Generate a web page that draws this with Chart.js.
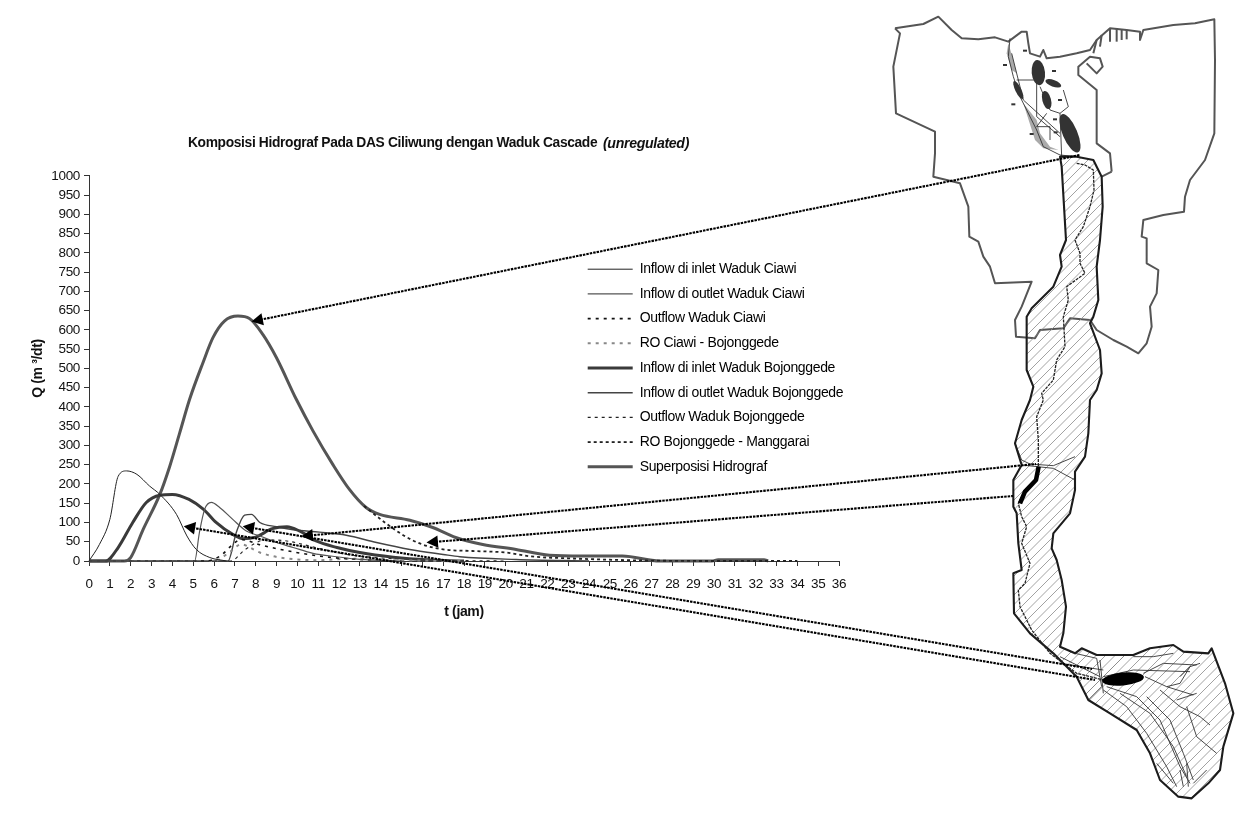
<!DOCTYPE html>
<html><head><meta charset="utf-8">
<style>html,body{margin:0;padding:0;background:#fff}canvas{display:block}</style>
<script src="https://cdn.jsdelivr.net/npm/chart.js@4"></script>
</head><body>
<div style="width:1252px;height:822px"><canvas id="c" width="1252" height="822"></canvas></div>
<script>
const chartTitle = 'Komposisi Hidrograf Pada DAS Ciliwung dengan Waduk Cascade';
const chartSubtitle = '(unregulated)';
const xAxisTitle = 't (jam)';
const yAxisTitle = 'Q (m ³/dt)';
const seriesNames = ['Inflow di inlet Waduk Ciawi','Inflow di outlet Waduk Ciawi','Outflow Waduk Ciawi','RO Ciawi - Bojonggede','Inflow di inlet Waduk Bojonggede','Inflow di outlet Waduk Bojonggede','Outflow Waduk Bojonggede','RO Bojonggede - Manggarai','Superposisi Hidrograf'];

const tInletCiawi = [0,0.5,1,1.4,1.8,2.3,2.9,3.4,4.2,4.7,5.15,5.8,6.6];
const qInletCiawi = [0,43,108,220,234,225,195,173,121,65,30,9,0];
const tOutletCiawi = [0,5.07,5.3,5.55,5.87,6.27,6.9,7.55,8.2,9,9.8,10.75,11.9,13,15];
const qOutletCiawi = [0,0,74,134,152,139,108,78,65,48,35,20,11,4,0];
const tOutflowCiawi = [0,5.6,6.3,6.9,7.3,8.2,9.2,10.2,11.5,13,15];
const qOutflowCiawi = [0,0,13,43,56,42,30,20,10,4,0];
const tRoCiawi = [0,6,6.8,7.3,8.2,9.15,10,11,12.5,14,18];
const qRoCiawi = [0,0,25,43,22,9,4,2,6,3,0];
const tInletBojong = [0,0.8,1.4,2.1,2.75,3.4,4,4.8,5.5,6.1,6.9,7.4,8,8.8,9.5,10.1,10.9,11.9,13,14.6,16.2,18];
const qInletBojong = [0,0,35,100,152,171,173,160,134,100,69,58,62,84,89,78,52,35,22,10,3,0];
const tOutletBojong = [0,6.67,7.07,7.47,7.8,8.2,9,9.8,11.07,12.35,13.8,15.4,17,17.8,20.5,24];
const qOutletBojong = [0,0,74,119,121,100,89,81,75,67,48,30,17,11,4,0];
const tOutflowBojong = [0,6.8,7.5,8.5,9.5,10.5,11.5,12.5,14,16,18,20];
const qOutflowBojong = [0,0,30,55,52,40,27,16,8,3,1,0];
const tRoBojong = [13.2,14.2,15.15,16,17,18.4,20,21.2,23,26,30,34];
const qRoBojong = [143,100,65,43,30,26,22,12,7,2,0,0];
const tSuper = [0,1.7,2,2.6,3.4,3.87,4.35,4.83,5.47,5.95,6.5,7.15,7.7,8.35,9,9.95,10.75,11.7,12.5,13.3,13.95,15.4,16.5,17.6,18.9,20.5,22.1,23.7,25.6,27.4,29.9,30.2,32.4,32.6];
const qSuper = [0,0,9,82,173,245,332,420,515,580,623,636,630,588,528,420,338,251,186,139,121,106,87,61,43,30,15,13,13,0,0,3,3,0];

const xTickMax = 36, yTickMax = 1000, yTickStep = 50;

// arrow tips in data units (t, Q); tails are map locations in page pixels
const arrows = [
  {t:7.8,  q:622, tail:[1080,155]},
  {t:16.2, q:48,  tail:[1013,496]},
  {t:10.2, q:64,  tail:[1036,464]},
  {t:4.55, q:90,  tail:[1095,680]},
  {t:7.38, q:90,  tail:[1092,669]}
];

const pairs = (t,q)=>t.map((x,i)=>({x,y:q[i]}));
const styles = [
  {c:'#222',w:1,d:[]},{c:'#555',w:1.2,d:[]},{c:'#111',w:1.6,d:[3,5]},{c:'#888',w:2,d:[3,5]},
  {c:'#3a3a3a',w:3,d:[]},{c:'#444',w:1.4,d:[]},{c:'#222',w:1.1,d:[3,4]},{c:'#222',w:1.8,d:[3,3]},{c:'#555',w:3,d:[]}
];
const series = [[tInletCiawi,qInletCiawi],[tOutletCiawi,qOutletCiawi],[tOutflowCiawi,qOutflowCiawi],[tRoCiawi,qRoCiawi],[tInletBojong,qInletBojong],[tOutletBojong,qOutletBojong],[tOutflowBojong,qOutflowBojong],[tRoBojong,qRoBojong],[tSuper,qSuper]];
const datasets = series.map((s,i)=>({label:seriesNames[i],data:pairs(s[0],s[1]),borderColor:styles[i].c,backgroundColor:'transparent',borderWidth:styles[i].w,borderDash:styles[i].d,pointRadius:0,cubicInterpolationMode:'monotone',fill:false,clip:false}));

// --- Map artwork (illustration) ---
const Z4 = a=>{const r=[];for(let i=0;i<a.length;i+=2)r.push([880+a[i]/3,a[i+1]/3]);return r;};
const Z5 = a=>{const r=[];for(let i=0;i<a.length;i+=2)r.push([960+a[i]/3,400+a[i+1]/3]);return r;};
const grayLines = [
 Z4([45,85,75,80,130,72,175,50,215,90,245,115,295,118,345,112,385,125,425,95,440,95,445,130,450,160,480,170,490,150,500,175,540,170,590,160,630,150,650,120,690,85,740,90,780,95,780,120,790,90,880,75,945,70,1003,58,1005,180,1003,400,975,480,930,540,915,590,912,635,850,645,790,660,785,710,800,715,800,790,835,810,830,880,810,920,815,980,800,1030,775,1060,740,1040,700,1020,650,990,630,960,570,955,550,985,480,990,465,1015,408,1010,405,960,425,920,455,845,345,850,330,800,310,770,295,725,268,710,265,620,240,550,160,530,165,460,165,395,48,340,40,200,60,100,45,85]),
 Z4([695,515,690,460,650,430,650,270,595,225,595,200,630,170,660,175,668,200,650,220,620,190]),
 Z4([695,515,665,530]),
 Z4([650,120,640,160]),Z4([665,105,660,140]),Z4([690,85,690,125]),Z4([710,85,710,125]),Z4([725,88,725,120]),Z4([740,90,740,118])
];
const basin = Z4([590,470,640,480,665,530,668,620,660,720,650,800,655,900,640,950,630,970,660,1050,665,1120,650,1170,630,1200]).concat(
 Z5([385,100,375,170,345,215,345,270,330,340,280,400,275,445,290,480,305,540,318,620,310,700,300,740,345,760,365,745,410,765,520,765,570,745,640,735,670,755,745,760,755,745,795,850,820,940,790,1040,780,1110,745,1150,695,1195,655,1190,600,1140,570,1060,530,990,450,940,385,900,350,830,280,760,210,700,162,640,160,520,185,510,175,430,170,340,160,320,160,240,185,195,165,130,185,60,210,0]),
 Z4([460,1160,440,1110,440,950,455,925,520,860,545,800,540,765,558,720,545,500,540,470]));
const thinLines = [
 Z5([165,130,185,180,210,192,280,197,345,170]),
 Z5([185,195,280,205,345,240]),
 Z5([345,760,410,775,425,860,385,900]),
 Z5([520,770,580,770,640,760]),Z5([430,830,520,810,690,815]),Z5([550,820,610,790,710,795]),
 Z5([555,830,620,860,700,885]),Z5([620,860,660,850,690,800]),Z5([600,870,660,920,720,950,750,975]),
 Z5([680,920,710,1010,770,1060]),Z5([440,860,530,890,600,960,660,1100,690,1150]),
 Z5([430,870,500,920,560,1000,620,1100,650,1160]),Z5([480,880,570,940,640,1040,680,1130]),
 Z5([560,890,630,960,670,1060,700,1140]),Z5([590,1090,640,1150]),Z5([740,1110,700,1150]),Z5([660,1110,670,1160]),Z5([680,1090,685,1160]),
 Z5([720,790,690,800,660,830]),Z5([710,880,680,890,650,900]),Z5([300,790,430,810]),Z5([300,770,420,830]),Z5([420,780,430,880]),
 Z4([390,115,385,170,400,230,420,290,470,390,490,440,540,465,590,470]),
 Z4([410,240,470,240]),Z4([470,190,470,350,540,410]),Z4([480,260,510,330,540,340,565,320,550,270]),
 Z4([500,340,470,380,510,380,510,420]),Z4([395,160,430,300,540,400]),Z4([540,340,545,470])
];
const river = Z4([590,490,615,495,640,510,642,570,630,620,610,680,585,720,600,760,600,790,615,820,560,860,565,900,550,950,555,1040,530,1080,520,1140,485,1180,490,1200]).concat(
 Z5([250,0,230,50,235,120,235,200,225,240,190,280,175,310,185,350,200,380,185,430,210,490,195,550,175,570,180,620,215,690,270,760,350,820,430,840]));
const reservoirLine = Z5([236,200,228,240,195,275,180,310]);
const blobs = [[475,218,20,38,-0.1],[415,270,9,30,-0.45],[520,250,25,10,0.35],[500,300,13,28,-0.25],[570,400,22,62,-0.4]];
const grayBlobs = [Z4([430,310,470,360,480,400,510,440,535,450,490,445,465,420]),Z4([385,130,400,180,410,220,395,210,380,160])];
const dashes = [[375,195],[522,213],[400,313],[455,402],[527,397],[540,300],[525,358],[435,152]];

function path(ctx,p,close){ctx.beginPath();p.forEach((q,i)=>i?ctx.lineTo(q[0],q[1]):ctx.moveTo(q[0],q[1]));if(close)ctx.closePath();}
function drawMap(ctx){
  ctx.save();ctx.lineJoin='round';
  ctx.strokeStyle='#555';ctx.lineWidth=2;grayLines.forEach(p=>{path(ctx,p);ctx.stroke();});
  ctx.save();path(ctx,basin,true);ctx.clip();ctx.strokeStyle='#8a8a8a';ctx.lineWidth=.8;
  for(let x=950;x<1600;x+=9.5){ctx.beginPath();ctx.moveTo(x,830);ctx.lineTo(x+680,150);ctx.stroke();}
  for(let x=950;x>300;x-=9.5){ctx.beginPath();ctx.moveTo(x,830);ctx.lineTo(x+680,150);ctx.stroke();}
  ctx.restore();
  ctx.fillStyle='#aaa';grayBlobs.forEach(p=>{path(ctx,p,true);ctx.fill();});
  ctx.strokeStyle='#333';ctx.lineWidth=.9;thinLines.forEach(p=>{path(ctx,p);ctx.stroke();});
  ctx.strokeStyle='#1c1c1c';ctx.lineWidth=2.1;path(ctx,basin,true);ctx.stroke();
  ctx.strokeStyle='#222';ctx.lineWidth=1.3;ctx.setLineDash([3,1]);path(ctx,river);ctx.stroke();ctx.setLineDash([]);
  ctx.strokeStyle='#000';ctx.lineWidth=4.5;path(ctx,reservoirLine);ctx.stroke();
  ctx.fillStyle='#333';blobs.forEach(b=>{ctx.beginPath();ctx.ellipse(880+b[0]/3,b[1]/3,b[2]/3,b[3]/3,b[4],0,7);ctx.fill();});
  ctx.fillStyle='#333';dashes.forEach(d=>ctx.fillRect(880+d[0]/3-2,d[1]/3-1,4,2));
  ctx.fillStyle='#000';ctx.beginPath();ctx.ellipse(1123,679,21,6.5,-0.1,0,7);ctx.fill();
  ctx.restore();
}
function drawArrows(chart){
  const ctx=chart.ctx,xs=chart.scales.x,ys=chart.scales.y;
  ctx.save();
  arrows.forEach(a=>{
    const tx=xs.getPixelForValue(a.t),ty=ys.getPixelForValue(a.q),ang=Math.atan2(a.tail[1]-ty,a.tail[0]-tx);
    ctx.strokeStyle='#000';ctx.lineWidth=2.1;ctx.setLineDash([2.5,1]);
    ctx.beginPath();ctx.moveTo(tx+9*Math.cos(ang),ty+9*Math.sin(ang));ctx.lineTo(a.tail[0],a.tail[1]);ctx.stroke();
    ctx.setLineDash([]);ctx.fillStyle='#000';
    ctx.beginPath();ctx.moveTo(tx,ty);
    ctx.lineTo(tx+13*Math.cos(ang-.5),ty+13*Math.sin(ang-.5));
    ctx.lineTo(tx+13*Math.cos(ang+.5),ty+13*Math.sin(ang+.5));ctx.closePath();ctx.fill();
  });
  ctx.restore();
}
const placement={
  id:'placement',
  afterLayout(chart){
    const put=(b,l,t,w,h)=>{b.left=l;b.top=t;b.right=l+w;b.bottom=t+h;};
    put(chart.legend,577,251.5,290,320);
    const boxes=chart.boxes;
    const title=chart.titleBlock;
    put(title,188,135,415,14);
    const sub=boxes.find(b=>b!==title&&b.options&&b.options.text===chartSubtitle);
    if(sub)put(sub,603,135.5,86,14);
  },
  beforeDraw(chart){chart.ctx.letterSpacing='-0.35px';drawMap(chart.ctx);},
  afterDraw(chart){drawArrows(chart);}
};
Chart.defaults.font.family='"Liberation Sans", Arial, sans-serif';
Chart.defaults.color='#111';
new Chart(document.getElementById('c'),{
  type:'line',
  data:{datasets},
  plugins:[placement],
  options:{
    responsive:false,animation:false,
    layout:{padding:{left:0,right:413,top:142,bottom:201}},
    plugins:{
      tooltip:{enabled:false},
      title:{display:true,text:chartTitle,align:'start',color:'#111',padding:0,font:{size:13.8,weight:'bold',lineHeight:1.2}},
      subtitle:{display:true,text:chartSubtitle,align:'start',color:'#111',padding:0,font:{size:14.5,weight:'bold',style:'italic',lineHeight:1.2}},
      legend:{position:'chartArea',align:'start',labels:{usePointStyle:true,pointStyle:'line',pointStyleWidth:45,padding:10.7,color:'#111',font:{size:14,lineHeight:1},
        generateLabels(chart){return chart.data.datasets.map((d,i)=>({text:d.label,fillStyle:'transparent',strokeStyle:d.borderColor,lineWidth:d.borderWidth,lineDash:d.borderDash,pointStyle:'line',datasetIndex:i,hidden:false}));}}}
    },
    scales:{
      x:{type:'linear',min:0,max:xTickMax,
        afterFit(s){s.height=60;},
        border:{color:'#333',width:1},
        grid:{drawOnChartArea:false,drawTicks:true,tickLength:5,color:'#333'},
        ticks:{stepSize:1,autoSkip:false,maxRotation:0,color:'#111',padding:10,font:{size:13.5},callback:v=>String(v)},
        title:{display:true,text:xAxisTitle,color:'#111',padding:{top:13,bottom:0},font:{size:14,weight:'bold'}}},
      y:{type:'linear',min:0,max:yTickMax,
        afterFit(s){s.width=89;},
        border:{color:'#333',width:1},
        grid:{drawOnChartArea:false,drawTicks:true,tickLength:5,color:'#333'},
        ticks:{stepSize:yTickStep,autoSkip:false,color:'#111',padding:4,font:{size:13.5},callback:v=>String(v)},
        title:{display:true,text:yAxisTitle,color:'#111',padding:{top:30,bottom:0},font:{size:14,weight:'bold'}}}
    }
  }
});
</script>
</body></html>
